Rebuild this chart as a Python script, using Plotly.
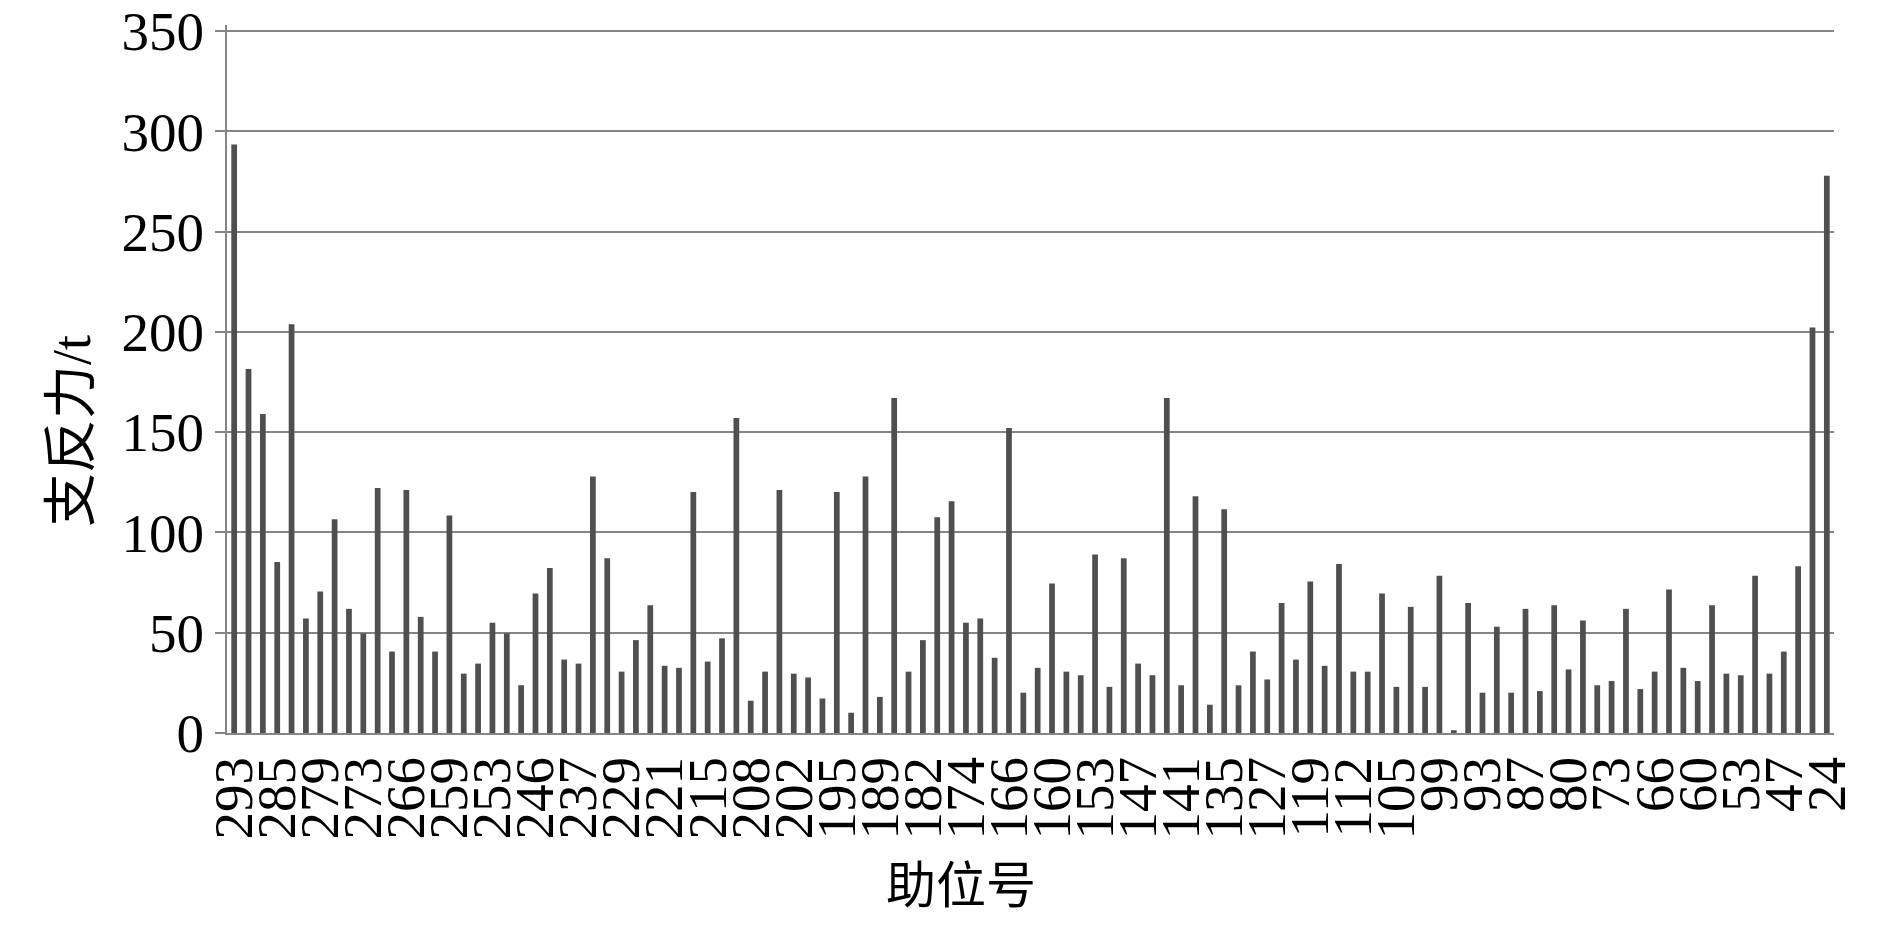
import plotly.graph_objects as go

# Rib numbers (category for each bar); every third one is labelled on the axis
ribs = [293, 290, 288, 285, 283, 281, 279, 277, 275, 273, 271, 268, 266, 264, 261, 259,
        257, 255, 253, 251, 248, 246, 243, 240, 237, 234, 232, 229, 226, 224, 221, 219,
        217, 215, 213, 210, 208, 206, 204, 202, 200, 197, 195, 193, 191, 189, 187, 184,
        182, 179, 177, 174, 171, 169, 166, 164, 162, 160, 158, 155, 153, 151, 149, 147,
        145, 143, 141, 139, 137, 135, 132, 130, 127, 124, 122, 119, 117, 114, 112, 110,
        107, 105, 103, 101, 99, 97, 95, 93, 91, 89, 87, 85, 82, 80, 78, 75,
        73, 71, 68, 66, 64, 62, 60, 58, 55, 53, 51, 49, 47, 40, 32, 24]

# Support reaction force (t)
force = [293.4, 181.5, 159.1, 85.2, 203.8, 57.1, 70.6, 106.6, 61.9, 49.7, 122.1, 40.6,
         121.2, 57.9, 40.6, 108.4, 29.6, 34.6, 55.0, 49.7, 23.8, 69.5, 82.3, 36.6,
         34.6, 127.9, 87.1, 30.6, 46.3, 63.7, 33.5, 32.5, 120.2, 35.6, 47.2, 157.0,
         16.1, 30.6, 121.2, 29.6, 27.7, 17.2, 120.2, 10.1, 127.9, 18.0, 167.0, 30.6,
         46.3, 107.6, 115.5, 55.0, 57.1, 37.5, 152.1, 20.1, 32.5, 74.5, 30.6, 28.8,
         89.0, 23.0, 87.1, 34.6, 28.8, 167.0, 23.8, 118.1, 14.1, 111.5, 23.8, 40.6,
         26.7, 64.8, 36.6, 75.5, 33.5, 84.2, 30.6, 30.6, 69.5, 23.0, 62.9, 23.0,
         78.4, 1.4, 64.8, 20.1, 53.0, 20.1, 61.9, 20.9, 63.7, 31.7, 56.1, 23.8,
         25.9, 61.9, 21.9, 30.6, 71.6, 32.5, 25.9, 63.7, 29.6, 28.8, 78.4, 29.6,
         40.6, 83.2, 202.2, 277.9]

y_ticks = [0, 50, 100, 150, 200, 250, 300, 350]
x_title = "助位号"
y_title = "支反力/t"

cats = [str(r) for r in ribs]
tick_cats = cats[::3]

GRID = "#858585"
BAR = "#4f4f4f"
NUM_FONT = "Liberation Serif"
CJK_FONT = "Liberation Serif, Noto Sans CJK SC"

# page body has an 8px margin; work in page coords minus 8
OFF = 8
Y_TOP = 353  # a little headroom so the 350 gridline is drawn
PX_PER_UNIT = (733 - 31) / 350
top_page = 733 - Y_TOP * PX_PER_UNIT
PL, PR, PT, PB = 227 - OFF, 1834 - OFF, round(top_page) - OFF, 733 - OFF
W, H = 1890 - 2 * OFF, 926 - 2 * OFF
plot_h = PB - PT

fig = go.Figure()
fig.add_trace(go.Bar(x=cats, y=force, marker=dict(color=BAR, line=dict(width=0)),
                     showlegend=False))

fig.update_layout(
    width=W, height=H,
    margin=dict(l=PL, r=W - PR, t=PT, b=H - PB),
    paper_bgcolor="white", plot_bgcolor="white",
    bargap=0.6,
    xaxis=dict(
        type="category", automargin=False,
        tickmode="array", tickvals=tick_cats, ticktext=tick_cats,
        tickangle=-90, ticklabeloverflow="allow",
        tickfont=dict(family=NUM_FONT, size=55, color="black"),
        showline=True, linecolor=GRID, linewidth=2,
        showgrid=False, ticks="", range=[-0.5, len(cats) - 0.5],
    ),
    yaxis=dict(
        automargin=False, ticklabeloverflow="allow",
        range=[0, Y_TOP], tickmode="array", tickvals=y_ticks,
        tickfont=dict(family=NUM_FONT, size=55, color="black"),
        showgrid=True, gridcolor=GRID, gridwidth=2,
        showline=True, linecolor=GRID, linewidth=2,
        ticks="outside", ticklen=10, tickcolor=GRID, tickwidth=2,
        zeroline=False,
    ),
    annotations=[
        dict(text=x_title, xref="paper", yref="paper", x=(961 - 227) / (1834 - 227),
             y=-(886 - 733) / plot_h, xanchor="center", yanchor="middle",
             showarrow=False, font=dict(family=CJK_FONT, size=50, color="black")),
        dict(text=y_title, xref="paper", yref="paper", x=-(227 - 72) / (1834 - 227),
             y=(733 - 431) / plot_h, xanchor="center", yanchor="middle",
             textangle=-90, showarrow=False,
             font=dict(family=CJK_FONT, size=54, color="black")),
    ],
)

fig.write_html("out.html")
